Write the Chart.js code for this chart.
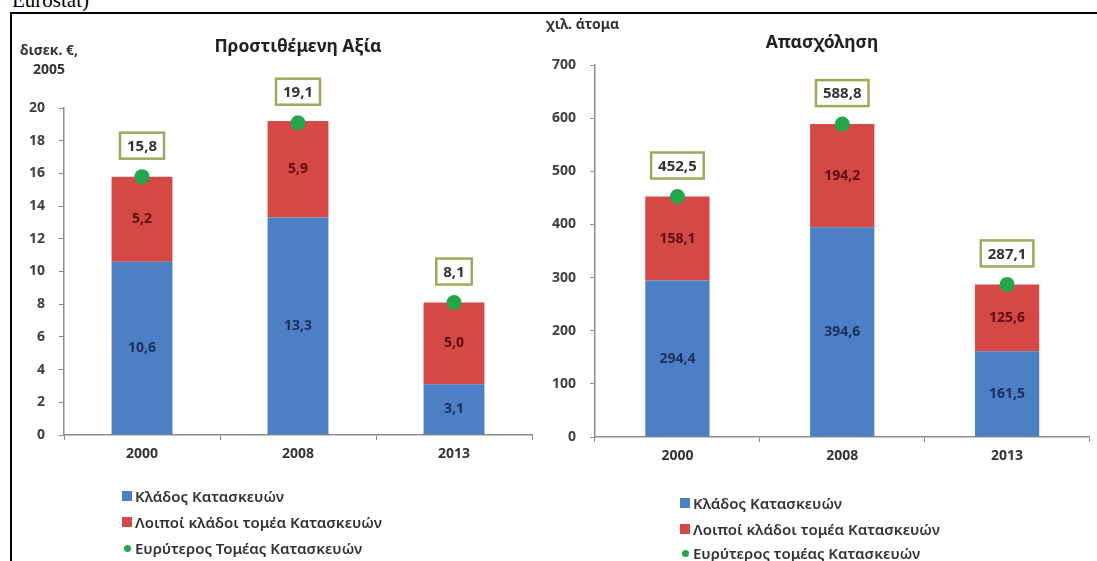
<!DOCTYPE html>
<html>
<head>
<meta charset="utf-8">
<script src="https://cdn.jsdelivr.net/npm/chart.js@4"></script>
<style>
  body { margin: 0; width: 1097px; height: 561px; background: #fff; overflow: hidden; position: relative; font-family: "Noto Sans", sans-serif; }
  canvas { position: absolute; top: 0; }
  .abs { position: absolute; white-space: nowrap; }
  .src { font-family: "Liberation Serif", serif; font-size: 21px; line-height: 21px; left: 12px; top: -10px; color: #000; }
  .title { font-weight: bold; font-size: 17.5px; color: #222; transform: translate(-50%, -50%); }
  .ytitle { font-weight: bold; font-size: 14px; color: #333; text-align: center; line-height: 19px; }
  .leg { font-size: 15px; font-weight: 600; color: #333; transform: translateY(-50%); display: flex; align-items: center; }
  .sq { display: inline-block; width: 10px; height: 10px; margin-right: 3px; }
  .dot { display: inline-block; width: 7px; height: 7px; border-radius: 50%; margin: 0 4px 0 2px; }
</style>
</head>
<body>
<div class="abs src">Eurostat)</div>
<div class="abs" style="left:10px;top:12px;right:0;height:2px;background:#000"></div>
<div class="abs" style="left:10px;top:12px;width:2px;bottom:0;background:#000"></div>

<canvas id="vaChart" width="545" height="561" style="left:0"></canvas>
<canvas id="empChart" width="557" height="561" style="left:540px"></canvas>

<div class="abs title" style="left:298px;top:45px">Προστιθέμενη Αξία</div>
<div class="abs title" style="left:822px;top:41px">Απασχόληση</div>
<div class="abs ytitle" style="left:20px;top:40px">δισεκ. €,<br>2005</div>
<div class="abs ytitle" style="left:546px;top:14px">χιλ. άτομα</div>

<div class="abs leg" style="left:122px;top:496px"><span class="sq" style="background:#4c7fc3"></span>Κλάδος Κατασκευών</div>
<div class="abs leg" style="left:122px;top:522px"><span class="sq" style="background:#d44946"></span>Λοιποί κλάδοι τομέα Κατασκευών</div>
<div class="abs leg" style="left:122px;top:548px"><span class="dot" style="background:#22a84a"></span>Ευρύτερος Τομέας Κατασκευών</div>

<div class="abs leg" style="left:680px;top:503px"><span class="sq" style="background:#4c7fc3"></span>Κλάδος Κατασκευών</div>
<div class="abs leg" style="left:680px;top:529px"><span class="sq" style="background:#d44946"></span>Λοιποί κλάδοι τομέα Κατασκευών</div>
<div class="abs leg" style="left:680px;top:553px"><span class="dot" style="background:#22a84a"></span>Ευρύτερος τομέας Κατασκευών</div>

<script>
const years = ['2000', '2008', '2013'];

// Προστιθέμενη Αξία (δισεκ. €, 2005)
const vaCore = [10.6, 13.3, 3.1];
const vaOther = [5.2, 5.9, 5.0];
const vaTotal = [15.8, 19.1, 8.1];

// Απασχόληση (χιλ. άτομα)
const empCore = [294.4, 394.6, 161.5];
const empOther = [158.1, 194.2, 125.6];
const empTotal = [452.5, 588.8, 287.1];

const BLUE = '#4c7fc3';
const RED = '#d44946';
const GREEN = '#22a84a';
const AXIS = '#8c8c8c';

function fmt(v) {
    return v.toFixed(1).replace('.', ',');
}

const valueLabels = {
    id: 'valueLabels',
    afterDatasetsDraw(chart) {
        const ctx = chart.ctx;
        ctx.save();
        ctx.textAlign = 'center';
        ctx.textBaseline = 'middle';
        chart.data.datasets.forEach((ds, i) => {
            const meta = chart.getDatasetMeta(i);
            meta.data.forEach((el, j) => {
                const v = ds.data[j];
                if (ds.type === 'line') {
                    ctx.font = 'bold 15px "Noto Sans"';
                    const txt = fmt(v);
                    const w = ctx.measureText(txt).width + 14;
                    const h = 26;
                    const cy = el.y - 31;
                    ctx.fillStyle = '#fff';
                    ctx.fillRect(el.x - w / 2, cy - h / 2, w, h);
                    ctx.strokeStyle = '#9aab5a';
                    ctx.lineWidth = 2.5;
                    ctx.strokeRect(el.x - w / 2, cy - h / 2, w, h);
                    ctx.fillStyle = '#333';
                    ctx.fillText(txt, el.x, cy + 1);
                } else {
                    ctx.font = 'bold 14px "Noto Sans"';
                    ctx.fillStyle = ds.labelColor;
                    ctx.fillText(fmt(v), el.x, (el.y + el.base) / 2);
                }
            });
        });
        ctx.restore();
    }
};

function makeChart(id, core, other, total, max, step, yWidth, pad) {
    const tickFont = { family: 'Noto Sans', size: 14, weight: 'bold' };
    return new Chart(document.getElementById(id), {
        type: 'bar',
        data: {
            labels: years,
            datasets: [
                {
                    type: 'line',
                    data: total,
                    stack: 'total',
                    showLine: false,
                    pointRadius: 7.5,
                    pointBackgroundColor: GREEN,
                    pointBorderWidth: 0,
                    order: 0
                },
                {
                    data: core,
                    backgroundColor: BLUE,
                    labelColor: '#1c2f5e',
                    stack: 'bars',
                    barPercentage: 0.39,
                    categoryPercentage: 1,
                    order: 1
                },
                {
                    data: other,
                    backgroundColor: RED,
                    labelColor: '#5c1010',
                    stack: 'bars',
                    barPercentage: 0.39,
                    categoryPercentage: 1,
                    order: 1
                }
            ]
        },
        options: {
            responsive: false,
            animation: false,
            layout: { padding: pad },
            plugins: {
                legend: { display: false },
                tooltip: { enabled: false }
            },
            scales: {
                x: {
                    stacked: true,
                    afterFit: s => { s.height = 30; },
                    grid: { drawOnChartArea: false, tickLength: 5, color: AXIS },
                    border: { color: AXIS, width: 1.5 },
                    ticks: { font: tickFont, color: '#333', padding: 6 }
                },
                y: {
                    stacked: true,
                    min: 0,
                    max: max,
                    afterFit: s => { s.width = yWidth; },
                    grid: { drawOnChartArea: false, tickLength: 5, color: AXIS },
                    border: { color: AXIS, width: 1.5 },
                    ticks: { stepSize: step, font: tickFont, color: '#404040', padding: 14 }
                }
            }
        },
        plugins: [valueLabels]
    });
}

makeChart('vaChart', vaCore, vaOther, vaTotal, 20, 2, 64, { top: 108, right: 13, bottom: 96, left: 0 });
makeChart('empChart', empCore, empOther, empTotal, 700, 100, 55, { top: 65, right: 7, bottom: 94, left: 0 });
</script>
</body>
</html>
